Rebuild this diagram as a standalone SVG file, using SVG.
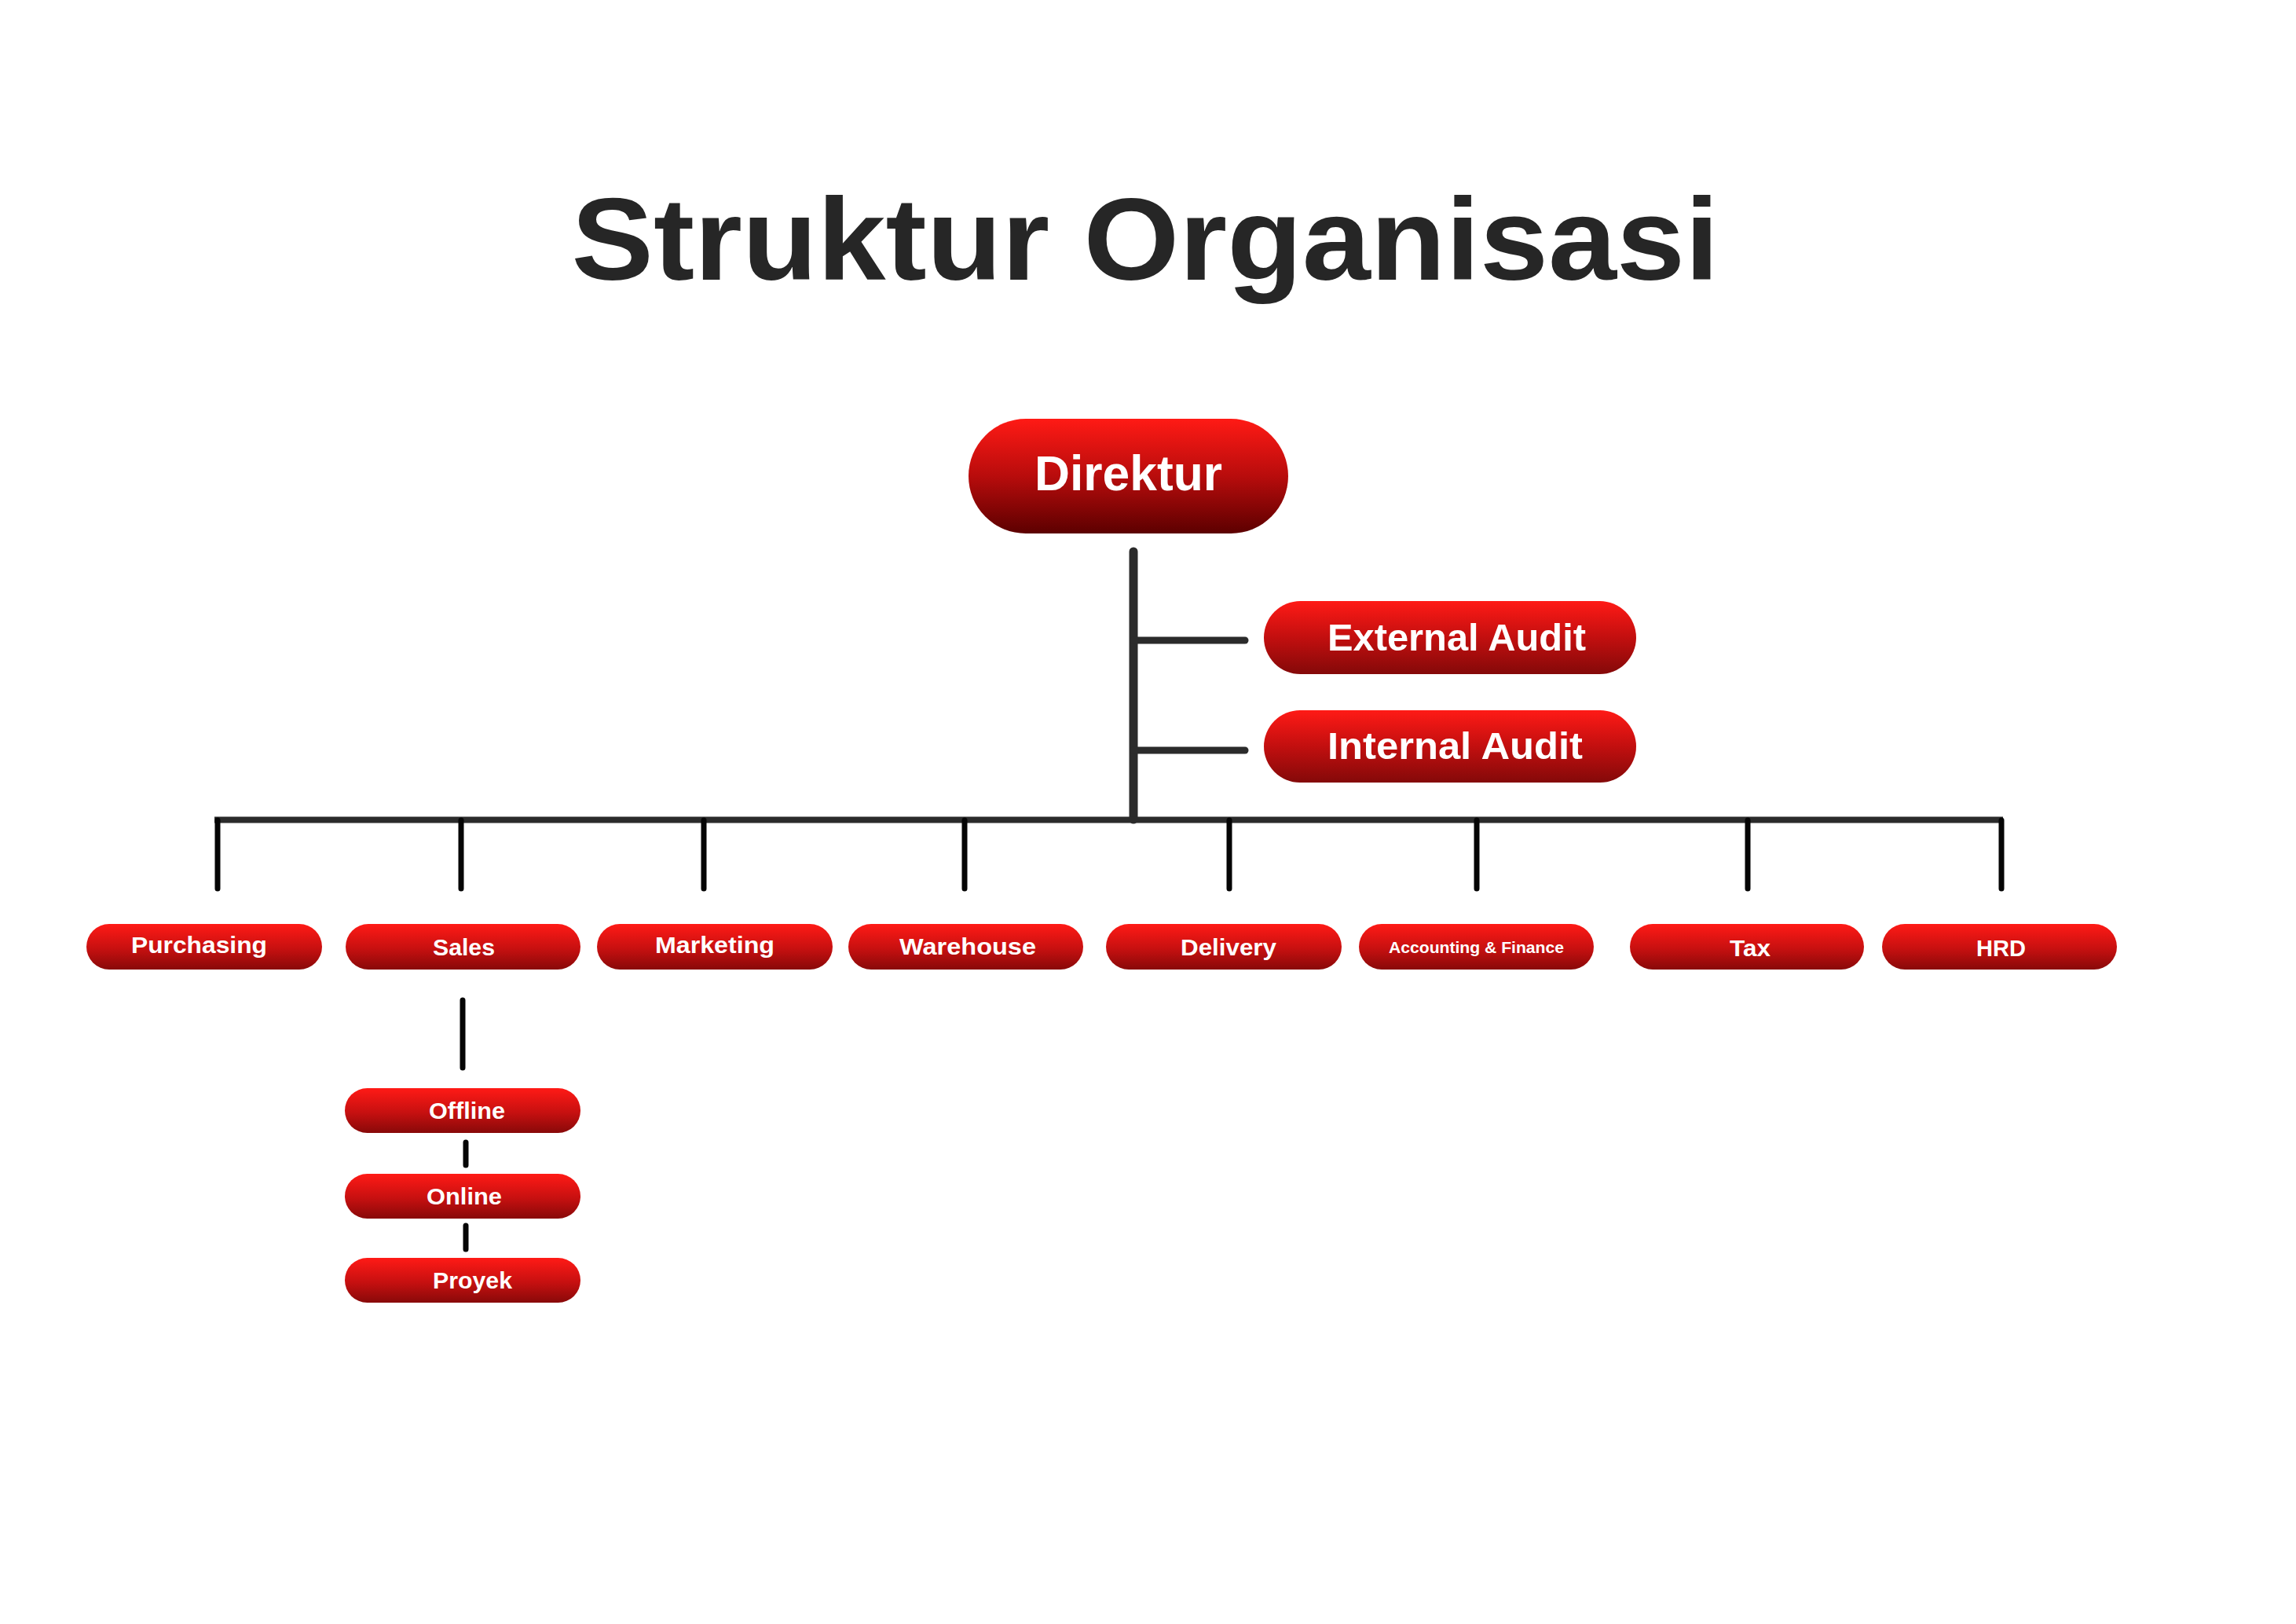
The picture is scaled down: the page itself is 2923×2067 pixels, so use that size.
<svg xmlns="http://www.w3.org/2000/svg" width="2923" height="2067" viewBox="0 0 2923 2067">
<defs>
<linearGradient id="gBig" x1="0" y1="0" x2="0" y2="1">
<stop offset="0" stop-color="#ff1a15"/>
<stop offset="0.5" stop-color="#b80c0c"/>
<stop offset="1" stop-color="#5c0000"/>
</linearGradient>
<linearGradient id="gMid" x1="0" y1="0" x2="0" y2="1">
<stop offset="0" stop-color="#ff1a16"/>
<stop offset="0.5" stop-color="#c20f0f"/>
<stop offset="1" stop-color="#840909"/>
</linearGradient>
<linearGradient id="gSmall" x1="0" y1="0" x2="0" y2="1">
<stop offset="0" stop-color="#ff1a16"/>
<stop offset="0.55" stop-color="#c61010"/>
<stop offset="1" stop-color="#880909"/>
</linearGradient>
</defs>
<style>
.lbl{font-family:"Liberation Sans","Noto Sans",Arial,sans-serif;font-weight:700;fill:#ffffff;text-anchor:middle}
.title{font-family:"Liberation Sans","Noto Sans",Arial,sans-serif;font-weight:700;fill:#262626;text-anchor:middle}
.big{fill:url(#gBig)}
.mid{fill:url(#gMid)}
.sm{fill:url(#gSmall)}
.trunk{stroke:#2b2b2b;fill:none;stroke-linecap:round}
.tick{stroke:#050505;fill:none;stroke-linecap:round;stroke-width:7}
</style>
<rect width="2923" height="2067" fill="#ffffff"/>
<text class="title" x="1458" y="356" font-size="148" textLength="1461" lengthAdjust="spacingAndGlyphs">Struktur Organisasi</text>

<g id="connectors">
<line class="trunk" x1="1443" y1="702" x2="1443" y2="1043" stroke-width="11"/>
<line class="trunk" x1="1443" y1="815" x2="1585" y2="815" stroke-width="9"/>
<line class="trunk" x1="1443" y1="955" x2="1585" y2="955" stroke-width="9"/>
<line x1="273" y1="1043.5" x2="2550" y2="1043.5" stroke="#2b2b2b" stroke-width="8"/>
<line class="tick" x1="277" y1="1044" x2="277" y2="1131"/>
<line class="tick" x1="587" y1="1044" x2="587" y2="1131"/>
<line class="tick" x1="896" y1="1044" x2="896" y2="1131"/>
<line class="tick" x1="1228" y1="1044" x2="1228" y2="1131"/>
<line class="tick" x1="1565" y1="1044" x2="1565" y2="1131"/>
<line class="tick" x1="1880" y1="1044" x2="1880" y2="1131"/>
<line class="tick" x1="2225" y1="1044" x2="2225" y2="1131"/>
<line class="tick" x1="2548" y1="1044" x2="2548" y2="1131"/>
<line class="tick" x1="589" y1="1273" x2="589" y2="1359"/>
<line class="tick" x1="593" y1="1454" x2="593" y2="1483" stroke-width="8"/>
<line class="tick" x1="593" y1="1560" x2="593" y2="1590" stroke-width="8"/>
</g>

<g id="direktur">
<rect class="big" x="1233" y="533" width="407" height="146" rx="73" ry="73"/>
<text class="lbl" x="1436.5" y="624" font-size="63" textLength="239" lengthAdjust="spacingAndGlyphs">Direktur</text>
</g>
<g id="external-audit">
<rect class="mid" x="1609" y="765" width="474" height="93" rx="46.5" ry="46.5"/>
<text class="lbl" x="1854.5" y="828" font-size="48" textLength="329" lengthAdjust="spacingAndGlyphs">External Audit</text>
</g>
<g id="internal-audit">
<rect class="mid" x="1609" y="904" width="474" height="92" rx="46" ry="46"/>
<text class="lbl" x="1852.5" y="966" font-size="48" textLength="325" lengthAdjust="spacingAndGlyphs">Internal Audit</text>
</g>

<g id="purchasing">
<rect class="sm" x="110" y="1176" width="300" height="58" rx="29"/>
<text class="lbl" x="253.5" y="1213" font-size="30" textLength="173" lengthAdjust="spacingAndGlyphs">Purchasing</text>
</g>
<g id="sales">
<rect class="sm" x="440" y="1176" width="299" height="58" rx="29"/>
<text class="lbl" x="590.5" y="1216" font-size="30" textLength="79" lengthAdjust="spacingAndGlyphs">Sales</text>
</g>
<g id="marketing">
<rect class="sm" x="760" y="1176" width="300" height="58" rx="29"/>
<text class="lbl" x="910" y="1213" font-size="30" textLength="152" lengthAdjust="spacingAndGlyphs">Marketing</text>
</g>
<g id="warehouse">
<rect class="sm" x="1080" y="1176" width="299" height="58" rx="29"/>
<text class="lbl" x="1232" y="1215" font-size="30" textLength="174" lengthAdjust="spacingAndGlyphs">Warehouse</text>
</g>
<g id="delivery">
<rect class="sm" x="1408" y="1176" width="300" height="58" rx="29"/>
<text class="lbl" x="1564" y="1216" font-size="30" textLength="122" lengthAdjust="spacingAndGlyphs">Delivery</text>
</g>
<g id="accounting-finance">
<rect class="sm" x="1730" y="1176" width="299" height="58" rx="29"/>
<text class="lbl" x="1879.5" y="1213" font-size="21" textLength="223" lengthAdjust="spacingAndGlyphs">Accounting &amp; Finance</text>
</g>
<g id="tax">
<rect class="sm" x="2075" y="1176" width="298" height="58" rx="29"/>
<text class="lbl" x="2228" y="1217" font-size="30" textLength="52" lengthAdjust="spacingAndGlyphs">Tax</text>
</g>
<g id="hrd">
<rect class="sm" x="2396" y="1176" width="299" height="58" rx="29"/>
<text class="lbl" x="2547.5" y="1217" font-size="30" textLength="63" lengthAdjust="spacingAndGlyphs">HRD</text>
</g>

<g id="offline">
<rect class="sm" x="439" y="1385" width="300" height="57" rx="28.5"/>
<text class="lbl" x="594.5" y="1424" font-size="29" textLength="97" lengthAdjust="spacingAndGlyphs">Offline</text>
</g>
<g id="online">
<rect class="sm" x="439" y="1494" width="300" height="57" rx="28.5"/>
<text class="lbl" x="591" y="1533" font-size="29" textLength="96" lengthAdjust="spacingAndGlyphs">Online</text>
</g>
<g id="proyek">
<rect class="sm" x="439" y="1601" width="300" height="57" rx="28.5"/>
<text class="lbl" x="601.5" y="1640" font-size="29" textLength="101" lengthAdjust="spacingAndGlyphs">Proyek</text>
</g>
</svg>
